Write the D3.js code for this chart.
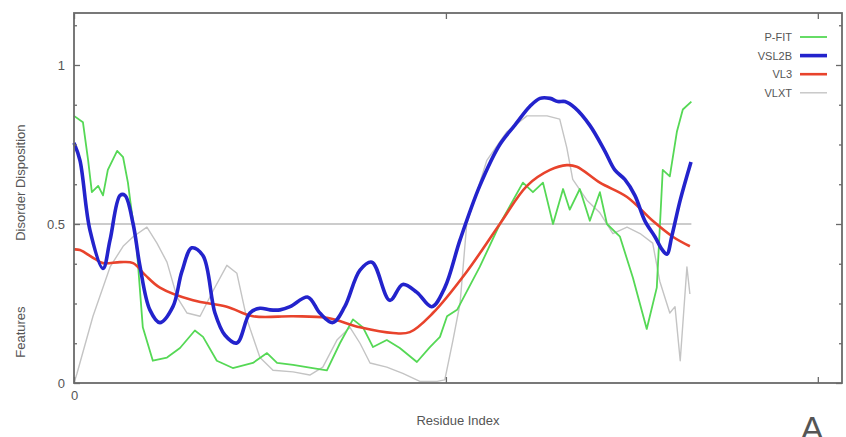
<!DOCTYPE html>
<html>
<head>
<meta charset="utf-8">
<script src="https://cdn.jsdelivr.net/npm/d3@7"></script>
<style>
  html, body { margin: 0; padding: 0; background: #fff; }
  svg { display: block; }
  text { font-family: "Liberation Sans", Arial, sans-serif; fill: #555; }
</style>
</head>
<body>
<svg id="chart" width="846" height="437"></svg>
<script>
// Disorder predictions along the sequence: [residue, disposition]
const pfit = [
  [0,0.84],[2.4,0.82],[3.8,0.70],[4.8,0.60],[6.5,0.62],[7.8,0.59],[9.1,0.67],
  [11.6,0.73],[13.2,0.71],[14.5,0.63],[15.1,0.575],[16.9,0.42],[18.5,0.175],
  [21.2,0.07],[25,0.08],[28.5,0.11],[32.5,0.165],[34.7,0.145],[38.4,0.07],
  [42.7,0.047],[48.1,0.063],[51.9,0.094],[54.6,0.063],[58.9,0.057],[64.2,0.047],
  [68,0.04],[71.5,0.125],[75,0.20],[77.7,0.175],[80.4,0.113],[84.1,0.135],
  [87.6,0.11],[92.2,0.066],[95.7,0.113],[98.4,0.145],[100.3,0.21],[103,0.23],
  [109.1,0.365],[114.5,0.50],[120.7,0.63],[123.4,0.60],[126.1,0.63],[128.8,0.50],
  [131.5,0.61],[133.3,0.545],[136,0.61],[138.7,0.51],[141.4,0.60],[143.3,0.50],
  [146.8,0.46],[150.3,0.33],[154,0.17],[156.7,0.30],[158.3,0.67],[160.2,0.65],
  [162.1,0.79],[163.7,0.86],[166,0.885]
];
const vsl2b = [
  [0,0.755],[1.6,0.70],[4.3,0.48],[7.8,0.36],[9.7,0.45],[12.4,0.59],[13.7,0.59],
  [15.9,0.50],[17.7,0.37],[20.4,0.23],[23.1,0.19],[26.6,0.24],[29,0.35],
  [31.7,0.425],[34.7,0.40],[37.9,0.22],[40.6,0.15],[43.8,0.126],[47.3,0.22],
  [50,0.235],[52.7,0.23],[55.4,0.23],[58.1,0.24],[62.9,0.27],[66.1,0.22],
  [69.6,0.19],[72.8,0.24],[76.9,0.355],[80.1,0.38],[84.9,0.26],[88.4,0.31],
  [92.2,0.285],[96.2,0.24],[99.7,0.30],[103.8,0.45],[109.1,0.62],[114.5,0.75],
  [118.5,0.81],[122.6,0.87],[125.3,0.895],[128,0.895],[130.1,0.885],[132,0.885],
  [134.7,0.865],[138.7,0.81],[142.7,0.73],[145.4,0.67],[148.1,0.64],[150.8,0.59],
  [153.5,0.51],[156.2,0.46],[158.1,0.42],[159.4,0.405],[160.8,0.465],[163,0.575],
  [165.9,0.695]
];
const vl3 = [
  [0,0.42],[1.6,0.418],[5.6,0.39],[7.8,0.377],[12.4,0.38],[15.9,0.377],[19.1,0.34],
  [23.1,0.30],[32,0.26],[41.1,0.24],[48.1,0.21],[58.9,0.21],[68,0.205],[76.9,0.175],
  [85.8,0.157],[90.3,0.16],[96.5,0.22],[105.6,0.35],[114.5,0.50],[121.8,0.62],
  [128,0.67],[132.5,0.685],[135.2,0.68],[141.4,0.63],[148.7,0.585],[155.6,0.51],
  [161,0.46],[165.6,0.43]
];
const vlxt = [
  [0,0.0],[0.8,0.03],[5.1,0.21],[9.7,0.365],[13.2,0.43],[15.9,0.46],[19.6,0.49],
  [22.3,0.44],[25,0.38],[27.7,0.27],[30.4,0.22],[33.9,0.21],[37.4,0.29],[41.1,0.37],
  [43.8,0.345],[46.5,0.20],[50,0.08],[53.5,0.04],[58.9,0.035],[63.4,0.025],
  [66.9,0.05],[70.7,0.135],[74.2,0.175],[76.9,0.125],[79.6,0.063],[84.1,0.05],
  [88.4,0.03],[93,0.005],[97.6,0.005],[99.7,0.01],[101.9,0.135],[103.8,0.25],
  [105.6,0.50],[111,0.70],[116.4,0.79],[121.8,0.84],[127.2,0.84],[130.6,0.83],
  [132.5,0.74],[134.1,0.64],[137.9,0.575],[141.4,0.535],[144.9,0.47],[148.7,0.49],
  [152.2,0.47],[155.6,0.44],[157.5,0.32],[160.2,0.22],[161.6,0.24],[163,0.07],
  [164.8,0.365],[165.6,0.28]
];

const seriesNames = ["P-FIT", "VSL2B", "VL3", "VLXT"];
const seriesColors = ["#55d855", "#2323cc", "#e8432c", "#c4c4c4"];
const seriesWidths = [1.8, 3.6, 2.6, 1.4];
const yTicks = [0, 0.5, 1];
const xTicks = [0, 100, 200];
const cutoff = 0.5;
const seqLength = 166;

const svg = d3.select("#chart");
const x = d3.scaleLinear().domain([0, 206.5]).range([74, 842]);
const y = d3.scaleLinear().domain([0, 1.1635]).range([383, 13]);

// cut-off line
svg.append("line")
  .attr("x1", x(0)).attr("x2", x(seqLength))
  .attr("y1", y(cutoff)).attr("y2", y(cutoff))
  .attr("stroke", "#9a9a9a").attr("stroke-width", 1.2);

// series, drawn back to front; the smoother predictors get a smooth curve
const curves = [d3.curveLinear, d3.curveCatmullRom.alpha(0.5),
                d3.curveCatmullRom.alpha(0.5), d3.curveLinear];
const data = [pfit, vsl2b, vl3, vlxt];
const order = [3, 0, 2, 1];
order.forEach(i => {
  const line = d3.line().x(d => x(d[0])).y(d => y(d[1])).curve(curves[i]);
  svg.append("path")
    .datum(data[i])
    .attr("fill", "none")
    .attr("stroke", seriesColors[i])
    .attr("stroke-width", seriesWidths[i])
    .attr("stroke-linejoin", "round")
    .attr("d", line);
});

// frame
svg.append("rect")
  .attr("x", x(0)).attr("y", y.range()[1])
  .attr("width", x.range()[1] - x(0))
  .attr("height", y(0) - y.range()[1])
  .attr("fill", "none").attr("stroke", "#6a6a6a").attr("stroke-width", 1.8);

// axes with inward ticks
const minor = d3.range(0, 1.13, 0.125).filter(v => !yTicks.includes(v));
function styleAxis(g) {
  g.select(".domain").remove();
  g.selectAll(".tick line").attr("stroke", "#6a6a6a").attr("stroke-width", 1.3);
  g.selectAll(".tick text").style("font-size", "13px").attr("fill", "#666");
}
svg.append("g").attr("transform", `translate(${x(0)},0)`)
  .call(d3.axisLeft(y).tickValues(yTicks).tickSize(-6).tickPadding(9)
        .tickFormat(d => d === 0 ? "0" : d3.format("")(d)))
  .call(styleAxis);
svg.append("g").attr("transform", `translate(${x(0)},0)`)
  .call(d3.axisLeft(y).tickValues(minor).tickSize(-3).tickFormat(""))
  .call(styleAxis);
svg.append("g").attr("transform", `translate(${x.range()[1]},0)`)
  .call(d3.axisRight(y).tickValues(yTicks).tickSize(-6).tickFormat(""))
  .call(styleAxis);
svg.append("g").attr("transform", `translate(${x.range()[1]},0)`)
  .call(d3.axisRight(y).tickValues(minor).tickSize(-3).tickFormat(""))
  .call(styleAxis);
svg.append("g").attr("transform", `translate(0,${y(0)})`)
  .call(d3.axisBottom(x).tickValues(xTicks).tickSize(-6).tickPadding(8)
        .tickFormat(d => d === 0 ? "0" : ""))
  .call(styleAxis);
svg.append("g").attr("transform", `translate(0,${y.range()[1]})`)
  .call(d3.axisTop(x).tickValues(xTicks).tickSize(-6).tickFormat(""))
  .call(styleAxis);

// axis titles
svg.append("text")
  .attr("transform", `translate(25,${y(0.63)}) rotate(-90)`)
  .attr("text-anchor", "middle").style("font-size", "13px")
  .text("Disorder Disposition");
svg.append("text")
  .attr("transform", `translate(25,${y(0.16)}) rotate(-90)`)
  .attr("text-anchor", "middle").style("font-size", "13px")
  .text("Features");
svg.append("text")
  .attr("x", (x(0) + x.range()[1]) / 2).attr("y", 425)
  .attr("text-anchor", "middle").style("font-size", "13px")
  .text("Residue Index");

// panel letter
svg.append("text")
  .attr("x", 812).attr("y", 440)
  .attr("text-anchor", "middle").style("font-size", "34px").attr("fill", "#222")
  .text("A");

// legend
const legend = svg.append("g");
seriesNames.forEach((name, i) => {
  const yy = 37 + i * 18.6;
  legend.append("text")
    .attr("x", 792).attr("y", yy + 4)
    .attr("text-anchor", "end").style("font-size", "11px").attr("fill", "#555")
    .text(name);
  legend.append("line")
    .attr("x1", 800).attr("x2", 827).attr("y1", yy).attr("y2", yy)
    .attr("stroke", seriesColors[i]).attr("stroke-width", seriesWidths[i]);
});
</script>
</body>
</html>
